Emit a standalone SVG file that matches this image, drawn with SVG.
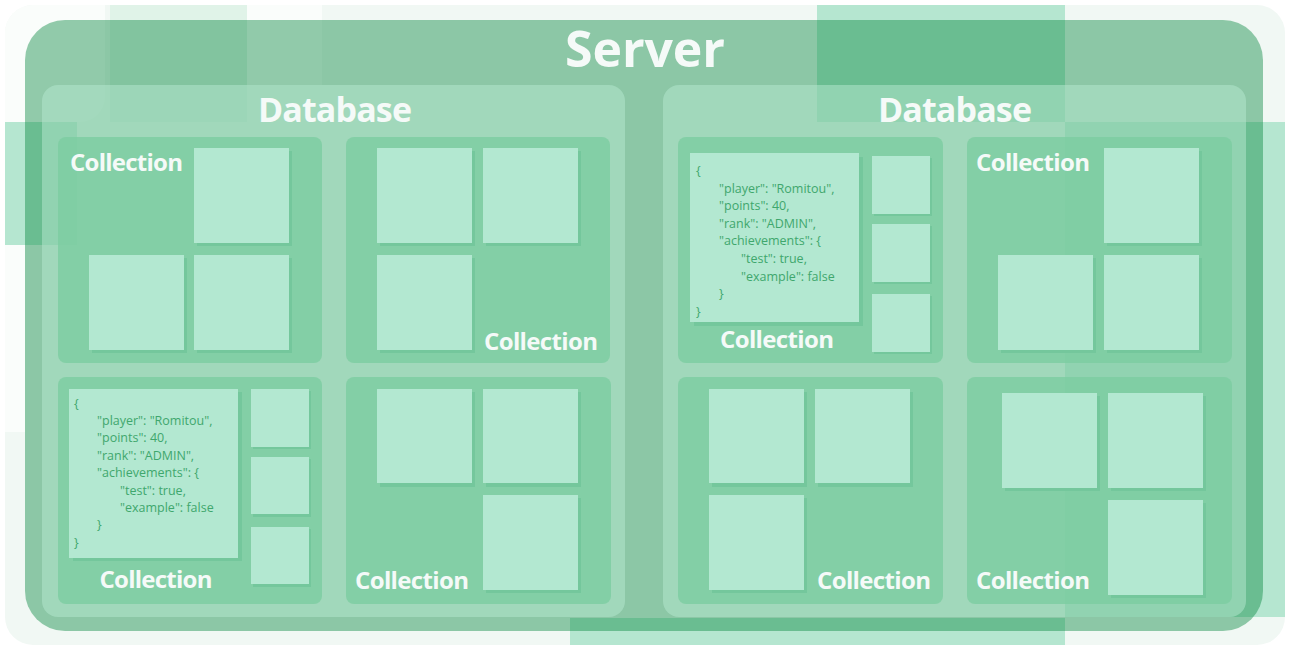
<svg xmlns="http://www.w3.org/2000/svg" width="1290" height="650" viewBox="0 0 1290 650">
  <defs>
    <clipPath id="bgclip">
      <rect x="5" y="5" width="1280" height="640" rx="28"/>
    </clipPath>
    <style>
      .deco { fill: #b5e6d0; }
      .white { fill: #fafdfb; }
      .server { fill: rgb(8,134,63); fill-opacity: 0.43; }
      .db { fill: rgb(179,230,205); fill-opacity: 0.53; }
      .coll { fill: rgb(125,205,161); fill-opacity: 0.82; }
      .doc { fill: #b3e8d1; }
      .sh { fill: #74c79c; }
      .title { font-family: "Open Sans", "Liberation Sans", sans-serif; font-weight: 700; fill: #f5faf8; }
      .t-server { font-size: 50px; }
      .t-db { font-size: 34px; }
      .t-coll { font-size: 24px; }
      .json { font-family: "Open Sans", "Liberation Sans", sans-serif; font-size: 12.5px; fill: #3fa76d; }
    </style>
  </defs>

  <!-- background decoration -->
  <g id="background">
    <rect x="5" y="5" width="1280" height="640" rx="28" fill="#f1f8f4"/>
    <g clip-path="url(#bgclip)">
      <path class="white" d="M0 0 H105 V97 A25 25 0 0 1 80 122 H0 Z"/>
      <rect class="white" x="0" y="0" width="25" height="432"/>
      <rect class="white" x="247" y="0" width="75" height="85"/>
      <rect x="110" y="0" width="137" height="122" fill="#e0f3e8"/>
      <rect class="deco" x="817" y="0" width="248" height="122"/>
      <rect class="deco" x="1065" y="122" width="225" height="495"/>
      <rect class="deco" x="0" y="122" width="77" height="123"/>
      <rect class="deco" x="570" y="618" width="495" height="40"/>
    </g>
  </g>

  <!-- server -->
  <g id="server">
    <rect class="server" x="25" y="20" width="1238" height="611" rx="40"/>
    <text class="title t-server" x="645" y="67" text-anchor="middle" textLength="160">Server</text>
  </g>

  <!-- left database -->
  <g id="database-left">
    <rect class="db" x="42" y="85" width="583" height="532" rx="16"/>
    <text class="title t-db" x="335" y="122" text-anchor="middle" textLength="154">Database</text>

    <g id="collection-l1">
      <rect class="coll" x="58" y="137" width="264" height="226" rx="8"/>
      <text class="title t-coll" x="70" y="171" textLength="113">Collection</text>
      <rect class="sh" x="197" y="151" width="95" height="95"/><rect class="doc" x="194" y="148" width="95" height="95"/>
      <rect class="sh" x="92" y="258" width="95" height="95"/><rect class="doc" x="89" y="255" width="95" height="95"/>
      <rect class="sh" x="197" y="258" width="95" height="95"/><rect class="doc" x="194" y="255" width="95" height="95"/>
    </g>

    <g id="collection-l2">
      <rect class="coll" x="346" y="137" width="264" height="226" rx="8"/>
      <rect class="sh" x="380" y="151" width="95" height="95"/><rect class="doc" x="377" y="148" width="95" height="95"/>
      <rect class="sh" x="486" y="151" width="95" height="95"/><rect class="doc" x="483" y="148" width="95" height="95"/>
      <rect class="sh" x="380" y="258" width="95" height="95"/><rect class="doc" x="377" y="255" width="95" height="95"/>
      <text class="title t-coll" x="484" y="350" textLength="114">Collection</text>
    </g>

    <g id="collection-l3">
      <rect class="coll" x="58" y="377" width="264" height="227" rx="8"/>
      <rect class="sh" x="73" y="392" width="169" height="169"/><rect class="doc" x="69" y="389" width="169" height="169"/>
      <text class="json">
        <tspan x="74" y="407.6">{</tspan>
        <tspan x="97" y="425">"player": "Romitou",</tspan>
        <tspan x="97" y="442.4">"points": 40,</tspan>
        <tspan x="97" y="459.8">"rank": "ADMIN",</tspan>
        <tspan x="97" y="477.2">"achievements": {</tspan>
        <tspan x="120" y="494.6">"test": true,</tspan>
        <tspan x="120" y="512">"example": false</tspan>
        <tspan x="97" y="529.4">}</tspan>
        <tspan x="74" y="546.8">}</tspan>
      </text>
      <rect class="sh" x="253" y="391" width="58" height="58"/><rect class="doc" x="251" y="389" width="58" height="58"/>
      <rect class="sh" x="253" y="459" width="58" height="58"/><rect class="doc" x="251" y="457" width="58" height="57"/>
      <rect class="sh" x="253" y="529" width="58" height="58"/><rect class="doc" x="251" y="527" width="58" height="57"/>
      <text class="title t-coll" x="156" y="588" text-anchor="middle" textLength="113">Collection</text>
    </g>

    <g id="collection-l4">
      <rect class="coll" x="346" y="377" width="265" height="227" rx="8"/>
      <rect class="sh" x="380" y="392" width="95" height="95"/><rect class="doc" x="377" y="389" width="95" height="94"/>
      <rect class="sh" x="486" y="392" width="95" height="95"/><rect class="doc" x="483" y="389" width="95" height="94"/>
      <rect class="sh" x="486" y="498" width="95" height="95"/><rect class="doc" x="483" y="495" width="95" height="95"/>
      <text class="title t-coll" x="355" y="589" textLength="114">Collection</text>
    </g>
  </g>

  <!-- right database -->
  <g id="database-right">
    <rect class="db" x="663" y="85" width="583" height="532" rx="16"/>
    <text class="title t-db" x="955" y="122" text-anchor="middle" textLength="154">Database</text>

    <g id="collection-r1">
      <rect class="coll" x="678" y="137" width="265" height="226" rx="8"/>
      <rect class="sh" x="694" y="157" width="169" height="169"/><rect class="doc" x="690" y="153" width="169" height="169"/>
      <text class="json">
        <tspan x="696" y="175">{</tspan>
        <tspan x="719" y="192.6">"player": "Romitou",</tspan>
        <tspan x="719" y="210.2">"points": 40,</tspan>
        <tspan x="719" y="227.8">"rank": "ADMIN",</tspan>
        <tspan x="719" y="245.4">"achievements": {</tspan>
        <tspan x="741" y="263">"test": true,</tspan>
        <tspan x="741" y="280.6">"example": false</tspan>
        <tspan x="719" y="298.2">}</tspan>
        <tspan x="696" y="315.8">}</tspan>
      </text>
      <rect class="sh" x="874" y="158" width="58" height="58"/><rect class="doc" x="872" y="156" width="58" height="58"/>
      <rect class="sh" x="874" y="226" width="58" height="58"/><rect class="doc" x="872" y="224" width="58" height="58"/>
      <rect class="sh" x="874" y="296" width="58" height="58"/><rect class="doc" x="872" y="294" width="58" height="58"/>
      <text class="title t-coll" x="777" y="348" text-anchor="middle" textLength="114">Collection</text>
    </g>

    <g id="collection-r2">
      <rect class="coll" x="967" y="137" width="265" height="226" rx="8"/>
      <text class="title t-coll" x="976" y="171" textLength="114">Collection</text>
      <rect class="sh" x="1107" y="151" width="95" height="95"/><rect class="doc" x="1104" y="148" width="95" height="95"/>
      <rect class="sh" x="1001" y="258" width="95" height="95"/><rect class="doc" x="998" y="255" width="95" height="95"/>
      <rect class="sh" x="1107" y="258" width="95" height="95"/><rect class="doc" x="1104" y="255" width="95" height="95"/>
    </g>

    <g id="collection-r3">
      <rect class="coll" x="678" y="377" width="265" height="227" rx="8"/>
      <rect class="sh" x="712" y="392" width="95" height="95"/><rect class="doc" x="709" y="389" width="95" height="94"/>
      <rect class="sh" x="818" y="392" width="95" height="95"/><rect class="doc" x="815" y="389" width="95" height="94"/>
      <rect class="sh" x="712" y="498" width="95" height="95"/><rect class="doc" x="709" y="495" width="95" height="95"/>
      <text class="title t-coll" x="817" y="589" textLength="114">Collection</text>
    </g>

    <g id="collection-r4">
      <rect class="coll" x="967" y="377" width="265" height="227" rx="8"/>
      <rect class="sh" x="1005" y="396" width="95" height="95"/><rect class="doc" x="1002" y="393" width="95" height="95"/>
      <rect class="sh" x="1111" y="396" width="95" height="95"/><rect class="doc" x="1108" y="393" width="95" height="95"/>
      <rect class="sh" x="1111" y="503" width="95" height="95"/><rect class="doc" x="1108" y="500" width="95" height="95"/>
      <text class="title t-coll" x="976" y="589" textLength="114">Collection</text>
    </g>
  </g>
</svg>
